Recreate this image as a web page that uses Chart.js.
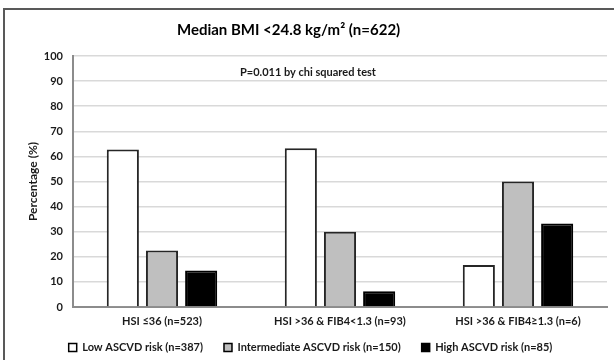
<!DOCTYPE html>
<html>
<head>
<meta charset="utf-8">
<script src="https://cdn.jsdelivr.net/npm/chart.js@4.4.1/dist/chart.umd.min.js"></script>
<style>
  html, body { margin: 0; padding: 0; background: #fff; }
  #wrap { position: relative; width: 614px; height: 360px; }
</style>
</head>
<body>
<div id="wrap"><canvas id="bmiChart"></canvas></div>
<script>
const categories = ['HSI \u226436 (n=523)', 'HSI >36 & FIB4<1.3 (n=93)', 'HSI >36 & FIB4\u22651.3 (n=6)'];
const seriesNames = ['Low ASCVD risk (n=387)', 'Intermediate ASCVD risk (n=150)', 'High ASCVD risk (n=85)'];
const lowRisk = [62.7, 63.2, 16.7];
const intermediateRisk = [22.5, 30.0, 50.0];
const highRisk = [14.5, 6.3, 33.3];
const yTicks = [0, 10, 20, 30, 40, 50, 60, 70, 80, 90, 100];
const titleText = 'Median BMI <24.8 kg/m\u00b2 (n=622)';
const noteText = 'P=0.011 by chi squared test';

const FONT = 'Lato, "Liberation Sans", sans-serif';

// white page, frame on top and left, and the title (sits a bit left of centre)
const framePlugin = {
  id: 'frame',
  beforeDraw(chart) {
    const ctx = chart.ctx;
    ctx.save();
    ctx.fillStyle = '#fff';
    ctx.fillRect(0, 0, chart.width, chart.height);
    ctx.strokeStyle = '#595959';
    ctx.lineWidth = 2;
    ctx.beginPath();
    ctx.moveTo(chart.width, 9);
    ctx.lineTo(4, 9);
    ctx.lineTo(4, chart.height);
    ctx.stroke();
    ctx.font = 'bold 15px ' + FONT;
    ctx.fillStyle = '#000';
    ctx.textAlign = 'center';
    ctx.textBaseline = 'middle';
    ctx.fillText(titleText, chart.width * 0.47, 30);
    ctx.restore();
  },
  // legend keeps its wide item spacing but sits closer to the axis labels
  afterLayout(chart) {
    chart.legend.top -= 10;
    chart.legend.left += 7;
    chart.legend.right += 7;
  }
};

// p-value note, placed in data units
const notePlugin = {
  id: 'note',
  afterDatasetsDraw(chart) {
    const ctx = chart.ctx;
    const x = chart.scales.x.getPixelForValue(0.82);
    const y = chart.scales.y.getPixelForValue(93.5);
    ctx.save();
    ctx.font = 'bold 11px ' + FONT;
    ctx.fillStyle = '#1a1a1a';
    ctx.textAlign = 'center';
    ctx.textBaseline = 'middle';
    ctx.fillText(noteText, x, y);
    ctx.restore();
  }
};

const ctx = document.getElementById('bmiChart').getContext('2d');
new Chart(ctx, {
  type: 'bar',
  data: {
    labels: categories,
    datasets: [
      { label: seriesNames[0], data: lowRisk, backgroundColor: '#ffffff', borderColor: '#262626', borderWidth: 2 },
      { label: seriesNames[1], data: intermediateRisk, backgroundColor: '#bfbfbf', borderColor: '#262626', borderWidth: 2 },
      { label: seriesNames[2], data: highRisk, backgroundColor: '#000000', borderColor: '#000000', borderWidth: 2 }
    ]
  },
  options: {
    responsive: true,
    maintainAspectRatio: false,
    animation: false,
    barPercentage: 0.82,
    categoryPercentage: 0.66,
    layout: { padding: { left: 0, right: 7, top: 56, bottom: 0 } },
    plugins: {
      title: { display: false },
      legend: {
        position: 'bottom',
        maxHeight: 29,
        labels: {
          color: '#1a1a1a',
          font: { family: FONT, size: 11, weight: 'bold' },
          boxWidth: 8,
          boxHeight: 8,
          padding: 21,
          generateLabels(chart) {
            const items = Chart.defaults.plugins.legend.labels.generateLabels(chart);
            items.forEach(it => { it.lineWidth = 1.5; it.strokeStyle = '#000'; });
            return items;
          }
        }
      },
      tooltip: { enabled: false }
    },
    scales: {
      x: {
        afterFit(axis) { axis.height = 24; },
        grid: { display: false, drawTicks: false },
        border: { color: '#8c8c8c', width: 2 },
        ticks: { color: '#1a1a1a', font: { family: FONT, size: 11, weight: 'bold' }, padding: 8, maxRotation: 0 }
      },
      y: {
        min: 0,
        max: 100,
        afterBuildTicks(axis) { axis.ticks = yTicks.map(v => ({ value: v })); },
        afterFit(axis) { axis.width = 73; },
        grid: { color: '#d9d9d9', lineWidth: 1.5, drawTicks: false },
        border: { color: '#8c8c8c', width: 2 },
        ticks: { color: '#1a1a1a', font: { family: FONT, size: 11, weight: 'bold' }, padding: 10 },
        title: {
          display: true,
          text: 'Percentage (%)',
          color: '#1a1a1a',
          font: { family: FONT, size: 12, weight: 'bold' },
          padding: { top: 26, bottom: 0 }
        }
      }
    }
  },
  plugins: [framePlugin, notePlugin]
});
</script>
</body>
</html>
